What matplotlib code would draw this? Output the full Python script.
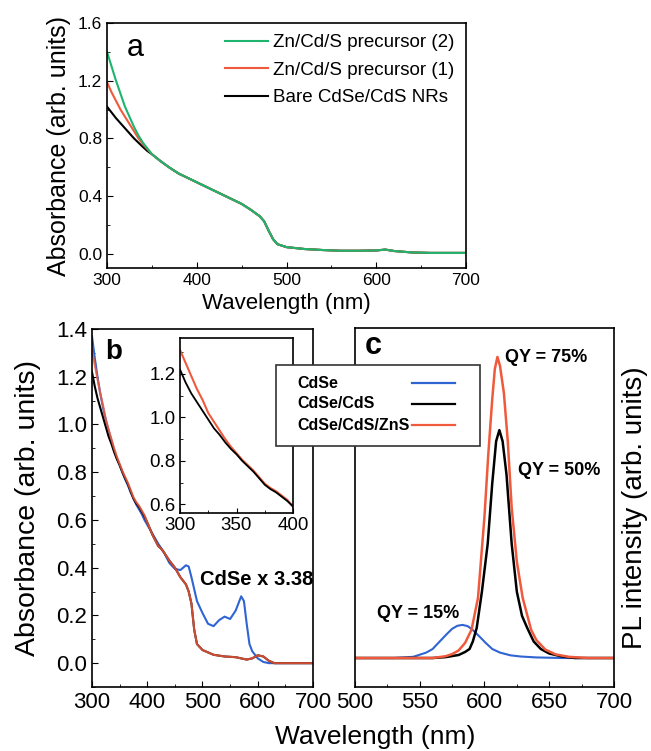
import numpy as np
import matplotlib
matplotlib.use("Agg")
import matplotlib.pyplot as plt
from matplotlib.ticker import MultipleLocator
from matplotlib.patches import Rectangle
from matplotlib.lines import Line2D

plt.rcParams['font.family'] = ['Liberation Sans', 'DejaVu Sans']
plt.rcParams['xtick.direction'] = 'in'
plt.rcParams['ytick.direction'] = 'in'
plt.rcParams['axes.linewidth'] = 1.2

GREEN = '#1fb46e'
ORANGE = '#f05a3c'
BLUE = '#2f64d2'

# ---- panel a : absorbance with precursors ----
wl_a_head = [300, 305, 310, 315, 320, 325, 330, 335, 340, 345]
abs_a_bare_head = [1.02, 0.98, 0.94, 0.905, 0.87, 0.835, 0.80, 0.77, 0.74, 0.712]
abs_a_p1_head = [1.19, 1.12, 1.06, 1.00, 0.95, 0.90, 0.85, 0.80, 0.76, 0.725]
abs_a_p2_head = [1.40, 1.30, 1.20, 1.11, 1.02, 0.95, 0.88, 0.82, 0.77, 0.73]
wl_a_tail = [350, 360, 370, 380, 390, 400, 410, 420, 430, 440, 450, 460, 470,
             475, 480, 485, 490, 500, 520, 540, 560, 580, 600, 610, 620, 640,
             660, 700]
abs_a_tail = [0.69, 0.64, 0.595, 0.555, 0.525, 0.495, 0.465, 0.435, 0.405,
              0.375, 0.345, 0.305, 0.26, 0.225, 0.16, 0.10, 0.065, 0.045,
              0.032, 0.025, 0.02, 0.02, 0.022, 0.028, 0.018, 0.008, 0.005,
              0.005]

# ---- panel b : absorbance of the three samples ----
wl_b_head = [300, 305, 310, 315, 320, 325, 330, 335, 340, 345, 350, 355,
             360, 365, 370, 375, 380, 385, 390, 395]
abs_b_cds_head = [1.22, 1.16, 1.11, 1.07, 1.03, 0.99, 0.95, 0.92, 0.885,
                  0.855, 0.83, 0.80, 0.775, 0.75, 0.72, 0.69, 0.67, 0.655,
                  0.635, 0.615]
abs_b_zns_head = [1.31, 1.25, 1.19, 1.13, 1.08, 1.02, 0.98, 0.94, 0.90,
                  0.865, 0.835, 0.805, 0.78, 0.755, 0.725, 0.695, 0.675,
                  0.66, 0.64, 0.62]
abs_b_cdse_head = [1.37, 1.28, 1.20, 1.13, 1.07, 1.02, 0.975, 0.935, 0.895,
                   0.86, 0.83, 0.80, 0.77, 0.745, 0.715, 0.69, 0.665, 0.645,
                   0.625, 0.60]
wl_b_tail = [400, 410, 420, 425, 430, 440, 450, 460, 470, 475, 480, 485, 490,
             500, 520, 540, 560, 570, 580, 590, 600, 610, 620, 630, 700]
abs_b_shell_tail = [0.59, 0.535, 0.49, 0.48, 0.465, 0.43, 0.40, 0.36, 0.33,
                    0.30, 0.25, 0.14, 0.08, 0.055, 0.035, 0.028, 0.025, 0.02,
                    0.015, 0.02, 0.033, 0.028, 0.01, 0.0, 0.0]
wl_b_cdse_tail = [400, 410, 420, 430, 440, 450, 460, 465, 470, 475, 480, 490,
                  500, 510, 520, 530, 540, 550, 560, 570, 575, 580, 585, 590,
                  600, 610, 620, 700]
abs_b_cdse_tail = [0.58, 0.54, 0.50, 0.465, 0.42, 0.395, 0.39, 0.40, 0.41,
                   0.405, 0.36, 0.26, 0.21, 0.165, 0.155, 0.18, 0.195, 0.185,
                   0.22, 0.28, 0.26, 0.165, 0.08, 0.05, 0.02, 0.005, 0.0, 0.0]

# ---- panel c : PL spectra ----
wl_c_cdse = [500, 530, 545, 550, 555, 560, 563, 567, 571, 575, 579, 583, 587,
             591, 596, 601, 606, 612, 620, 628, 640, 660, 700]
pl_cdse = [0.0, 0.0, 0.004, 0.011, 0.018, 0.03, 0.044, 0.062, 0.08, 0.097,
           0.107, 0.11, 0.106, 0.093, 0.072, 0.05, 0.03, 0.018, 0.009,
           0.005, 0.002, 0.0, 0.0]
wl_c_cds = [500, 560, 570, 580, 585, 588.5, 591, 594, 598, 602.5, 606, 609,
            611.5, 614, 617, 621, 625, 629, 633, 638, 643.5, 650, 660, 670,
            700]
pl_cds = [0.0, 0.0, 0.003, 0.01, 0.02, 0.03, 0.055, 0.10, 0.22, 0.38, 0.58,
          0.72, 0.757, 0.72, 0.61, 0.38, 0.22, 0.14, 0.10, 0.055, 0.03, 0.015,
          0.005, 0.0, 0.0]
wl_c_zns = [500, 560, 570, 575, 580, 585, 590, 595, 600, 603, 606, 608, 610,
            612, 615, 618, 621, 625, 629.5, 636, 640, 647, 655, 665, 680, 700]
pl_zns = [0.0, 0.0, 0.006, 0.013, 0.025, 0.05, 0.094, 0.20, 0.47, 0.68,
          0.86, 0.96, 1.0, 0.97, 0.88, 0.72, 0.50, 0.32, 0.20, 0.094, 0.06,
          0.028, 0.012, 0.004, 0.0, 0.0]

legend_c = ['CdSe', 'CdSe/CdS', 'CdSe/CdS/ZnS']
colors_c = [BLUE, 'black', ORANGE]

fig = plt.figure(figsize=(6.51, 7.51), dpi=100)

# panel a
ax_a = fig.add_axes([0.1644, 0.6431, 0.5515, 0.3262])
la0, = ax_a.plot(wl_a_head + wl_a_tail, abs_a_bare_head + abs_a_tail,
                 color='black', lw=1.5)
la1, = ax_a.plot(wl_a_head + wl_a_tail, abs_a_p1_head + abs_a_tail,
                 color=ORANGE, lw=1.5)
la2, = ax_a.plot(wl_a_head + wl_a_tail, abs_a_p2_head + abs_a_tail,
                 color=GREEN, lw=1.5)
ax_a.set_xlim(300, 700)
ax_a.set_ylim(-0.1, 1.6)
ax_a.xaxis.set_major_locator(MultipleLocator(100))
ax_a.xaxis.set_minor_locator(MultipleLocator(50))
ax_a.yaxis.set_major_locator(MultipleLocator(0.4))
ax_a.yaxis.set_minor_locator(MultipleLocator(0.2))
ax_a.tick_params(labelsize=12.5, length=4)
ax_a.tick_params(which='minor', length=2.5)
ax_a.set_xlabel('Wavelength (nm)', fontsize=16, labelpad=4)
ax_a.set_ylabel('Absorbance (arb. units)', fontsize=18, labelpad=5)
ax_a.text(0.056, 0.898, 'a', transform=ax_a.transAxes, fontsize=22,
          ha='left', va='center')
ax_a.legend([la2, la1, la0],
            ['Zn/Cd/S precursor (2)', 'Zn/Cd/S precursor (1)',
             'Bare CdSe/CdS NRs'],
            loc='upper right', frameon=False, fontsize=13.5,
            handlelength=2.3, handletextpad=0.3, labelspacing=0.55,
            borderaxespad=0.2)

# panel b
ax_b = fig.add_axes([0.1413, 0.0852, 0.3395, 0.4767])
ax_b.plot(wl_b_head + wl_b_cdse_tail, abs_b_cdse_head + abs_b_cdse_tail,
          color=BLUE, lw=1.5)
ax_b.plot(wl_b_head + wl_b_tail, abs_b_cds_head + abs_b_shell_tail,
          color='black', lw=1.5)
ax_b.plot(wl_b_head + wl_b_tail, abs_b_zns_head + abs_b_shell_tail,
          color=ORANGE, lw=1.5, alpha=0.85)
ax_b.set_xlim(300, 700)
ax_b.set_ylim(-0.1, 1.4)
ax_b.xaxis.set_major_locator(MultipleLocator(100))
ax_b.xaxis.set_minor_locator(MultipleLocator(50))
ax_b.yaxis.set_major_locator(MultipleLocator(0.2))
ax_b.yaxis.set_minor_locator(MultipleLocator(0.1))
ax_b.tick_params(labelsize=16, length=4.5)
ax_b.tick_params(which='minor', length=2.5)
ax_b.set_ylabel('Absorbance (arb. units)', fontsize=20.5, labelpad=11)
ax_b.text(0.059, 0.936, 'b', transform=ax_b.transAxes, fontsize=20,
          fontweight='bold', ha='left', va='center')
ax_b.text(0.489, 0.299, 'CdSe x 3.38', transform=ax_b.transAxes,
          fontsize=14.5, fontweight='bold', ha='left', va='center')

# inset in panel b
ax_in = fig.add_axes([0.2765, 0.3169, 0.1736, 0.233])
ax_in.plot(wl_b_head + wl_b_tail[:1], abs_b_zns_head + abs_b_shell_tail[:1],
           color=ORANGE, lw=1.5)
ax_in.plot(wl_b_head + wl_b_tail[:1], abs_b_cds_head + abs_b_shell_tail[:1],
           color='black', lw=1.3)
ax_in.set_xlim(300, 400)
ax_in.set_ylim(0.56, 1.365)
ax_in.xaxis.set_major_locator(MultipleLocator(50))
ax_in.xaxis.set_minor_locator(MultipleLocator(25))
ax_in.yaxis.set_major_locator(MultipleLocator(0.2))
ax_in.yaxis.set_minor_locator(MultipleLocator(0.1))
ax_in.tick_params(labelsize=13.5, length=3.5, pad=3)
ax_in.tick_params(which='minor', length=2)

# panel c
ax_c = fig.add_axes([0.5453, 0.0852, 0.3978, 0.478])
ax_c.plot(wl_c_cdse, pl_cdse, color=BLUE, lw=1.5)
ax_c.plot(wl_c_cds, pl_cds, color='black', lw=1.8)
ax_c.plot(wl_c_zns, pl_zns, color=ORANGE, lw=1.8)
ax_c.set_xlim(500, 700)
ax_c.set_ylim(-0.0963, 1.096)
ax_c.xaxis.set_major_locator(MultipleLocator(50))
ax_c.xaxis.set_minor_locator(MultipleLocator(25))
ax_c.set_yticks([])
ax_c.tick_params(labelsize=16, length=4.5)
ax_c.tick_params(which='minor', length=2.5)
ax_c.yaxis.set_label_position('right')
ax_c.set_ylabel('PL intensity (arb. units)', fontsize=20, labelpad=6)
ax_c.text(0.039, 0.95, 'c', transform=ax_c.transAxes, fontsize=22,
          fontweight='bold', ha='left', va='center')
ax_c.text(0.579, 0.919, 'QY = 75%', transform=ax_c.transAxes, fontsize=13,
          fontweight='bold', ha='left', va='center')
ax_c.text(0.629, 0.604, 'QY = 50%', transform=ax_c.transAxes, fontsize=13,
          fontweight='bold', ha='left', va='center')
ax_c.text(0.085, 0.206, 'QY = 15%', transform=ax_c.transAxes, fontsize=13,
          fontweight='bold', ha='left', va='center')

# shared x label under b and c
fig.text(375 / 651, 1 - 737 / 751, 'Wavelength (nm)', fontsize=19,
         ha='center', va='center')

# legend box for b/c, drawn by hand (labels left, line samples right)
W, H = 651.0, 751.0
fig.patches.append(Rectangle((276 / W, 1 - 446 / H), 204 / W, 81 / H,
                             transform=fig.transFigure, facecolor='white',
                             edgecolor='#333333', lw=1.2, zorder=10))
for i, (lab, col) in enumerate(zip(legend_c, colors_c)):
    yy = 1 - (383 + 21 * i) / H
    fig.text(297 / W, yy, lab, fontsize=11.5, fontweight='bold',
             ha='left', va='center', zorder=11)
    fig.lines.append(Line2D([412 / W, 455 / W], [yy, yy],
                            transform=fig.transFigure, color=col, lw=1.6,
                            zorder=11))

fig.savefig('out.png', dpi=100)
